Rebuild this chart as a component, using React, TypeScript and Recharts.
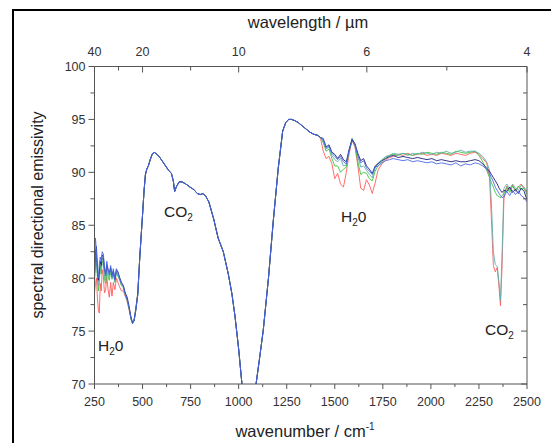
import { LineChart, Line, XAxis, YAxis, Customized } from 'recharts';

// wavenumber grids (cm-1)
const leftWn = [250, 255, 260, 265, 270, 275, 280, 285, 290, 296, 302, 308, 314, 320, 327, 334, 341, 348, 356, 364, 372, 380, 390, 400, 410, 420, 430, 440, 448, 456, 465, 475];
const midWn = [485, 492, 500, 508, 515, 522, 530, 540, 550, 560, 575, 590, 605, 620, 635, 650, 660, 667, 675, 690, 705, 725, 747, 765, 785, 800, 815, 830, 845, 870, 893, 920, 946, 965, 981, 1000, 1016, 1035, 1050, 1070, 1089, 1110, 1128, 1155, 1180, 1206, 1229, 1245, 1260, 1275, 1290, 1310, 1330, 1350, 1370, 1390, 1410, 1425];
const rightWn = [1440, 1455, 1470, 1485, 1500, 1515, 1530, 1545, 1560, 1575, 1590, 1605, 1620, 1635, 1650, 1665, 1680, 1695, 1710, 1725, 1745, 1765, 1785, 1805, 1830, 1855, 1880, 1905, 1930, 1955, 1980, 2005, 2030, 2055, 2080, 2105, 2130, 2155, 2180, 2205, 2230, 2250, 2270, 2290, 2305, 2315, 2325, 2335, 2345, 2355, 2362, 2370, 2380, 2395, 2410, 2425, 2440, 2455, 2470, 2485, 2500];

// part where all the spectra coincide
const sharedMid = [81.8, 83.8, 86.0, 88.3, 89.8, 90.3, 90.6, 91.2, 91.7, 91.9, 91.7, 91.4, 91.0, 90.6, 90.2, 89.9, 89.2, 88.2, 88.6, 89.1, 89.1, 88.9, 88.6, 88.4, 88.0, 87.9, 88.0, 87.7, 87.2, 85.6, 83.8, 82.5, 80.4, 78.5, 76.4, 73.3, 70.2, 66.8, 65.0, 66.5, 69.8, 72.6, 75.1, 80.0, 85.4, 90.4, 93.9, 94.7, 95.0, 95.0, 94.9, 94.7, 94.4, 94.1, 93.8, 93.6, 93.5, 93.3];

const redLeft = [78.6, 79.5, 80.0, 78.2, 77.0, 76.7, 79.5, 78.8, 80.8, 80.2, 78.6, 78.9, 80.2, 79.0, 78.2, 79.6, 78.3, 79.6, 78.9, 80.0, 79.6, 79.2, 78.8, 78.8, 78.3, 77.8, 77.0, 76.1, 75.7, 76.1, 77.2, 78.6];
const redRight = [92.0, 91.3, 91.5, 90.8, 89.4, 89.9, 88.9, 88.6, 90.0, 91.8, 93.0, 92.4, 90.6, 88.5, 88.3, 89.3, 88.8, 88.0, 89.0, 90.2, 90.8, 91.2, 91.4, 91.5, 91.7, 91.6, 91.8, 91.6, 91.7, 91.8, 91.6, 91.7, 91.6, 91.8, 91.7, 91.6, 91.8, 91.7, 91.6, 91.8, 91.9, 91.7, 91.3, 90.9, 89.6, 85.5, 81.2, 80.6, 81.0, 79.0, 77.4, 81.0, 87.5, 88.7, 88.3, 88.8, 88.2, 88.6, 88.9, 88.4, 88.1];

const greenLeft = [79.8, 81.0, 82.0, 80.0, 78.8, 79.6, 81.2, 80.4, 81.6, 81.4, 79.9, 79.5, 80.6, 80.2, 79.8, 80.6, 79.9, 80.4, 79.6, 80.5, 80.2, 79.9, 79.3, 79.1, 78.4, 77.9, 77.1, 76.1, 75.7, 76.0, 77.1, 78.5];
const greenRight = [92.8, 92.0, 92.2, 91.3, 90.6, 90.6, 90.0, 90.3, 90.5, 92.0, 93.2, 92.6, 91.0, 89.8, 90.0, 89.9, 89.4, 89.2, 90.1, 90.6, 91.0, 91.4, 91.6, 91.7, 91.6, 91.8, 91.7, 91.6, 91.8, 91.7, 91.9, 91.8, 91.7, 91.9, 91.8, 91.7, 92.0, 91.9, 91.8, 91.9, 92.0, 91.6, 91.0, 90.2, 89.5, 89.0, 88.6, 88.1, 87.8, 87.7, 87.6, 87.8, 88.0, 88.6, 88.1, 88.7, 88.3, 88.7, 88.4, 88.5, 87.9];

const tealLeft = [80.2, 81.8, 82.2, 80.6, 79.3, 80.0, 81.0, 80.8, 81.9, 81.6, 80.3, 79.8, 80.9, 80.5, 80.1, 80.8, 80.0, 80.5, 79.7, 80.6, 80.3, 79.9, 79.4, 79.2, 78.5, 78.0, 77.2, 76.2, 75.8, 76.0, 77.0, 78.4];
const tealRight = [92.9, 92.2, 92.4, 91.6, 91.2, 91.0, 91.3, 90.6, 90.7, 92.0, 93.2, 92.6, 91.5, 90.5, 90.6, 90.2, 89.8, 89.5, 90.4, 90.9, 91.2, 91.5, 91.6, 91.8, 91.7, 91.8, 91.6, 91.8, 91.7, 91.9, 91.8, 91.7, 91.9, 91.8, 92.0, 91.8, 91.9, 92.1, 91.9, 92.0, 92.0, 91.8, 91.5, 91.0, 90.2, 87.0, 82.5, 81.3, 81.1, 79.5, 77.9, 82.0, 88.5, 88.9, 88.4, 88.9, 88.5, 88.3, 88.8, 88.6, 88.2];

const navyLeft = [80.5, 82.5, 83.0, 81.0, 79.8, 80.6, 81.6, 81.2, 82.2, 82.0, 80.9, 80.4, 81.3, 80.8, 80.5, 81.0, 80.3, 80.7, 79.9, 80.8, 80.6, 80.1, 79.6, 79.3, 78.6, 78.2, 77.3, 76.3, 75.8, 76.0, 77.0, 78.5];
const navyRight = [93.2, 92.4, 92.6, 91.9, 91.7, 91.3, 91.7, 91.2, 91.0, 92.2, 93.1, 92.7, 91.8, 91.1, 91.3, 90.6, 90.3, 89.9, 90.6, 90.8, 91.1, 91.3, 91.5, 91.6, 91.4, 91.5, 91.4, 91.3, 91.4, 91.3, 91.2, 91.3, 91.1, 91.2, 91.1, 91.0, 91.1, 91.0, 91.0, 91.1, 91.2, 91.1, 90.8, 90.4, 90.1, 89.8, 89.5, 89.2, 88.9, 88.5, 88.3, 88.1, 88.3, 88.2, 88.6, 88.1, 88.4, 88.0, 88.5, 88.2, 87.4];

const blueLeft = [81.5, 83.8, 82.6, 80.5, 80.0, 81.3, 82.0, 81.5, 82.5, 82.3, 81.0, 80.2, 81.6, 80.9, 80.3, 81.2, 80.1, 80.9, 79.8, 80.9, 80.5, 80.0, 79.5, 79.2, 78.5, 78.0, 77.2, 76.2, 75.7, 76.0, 77.0, 78.4];
const blueRight = [93.1, 92.3, 92.5, 91.8, 91.5, 91.2, 91.5, 91.0, 90.8, 92.1, 93.0, 92.6, 91.6, 90.9, 91.1, 90.4, 90.1, 89.8, 90.5, 90.6, 90.9, 91.1, 91.2, 91.3, 91.2, 91.1, 91.2, 91.0, 91.1, 91.0, 90.9, 91.0, 90.8, 90.9, 90.8, 90.7, 90.9, 90.6, 90.8, 90.7, 90.9, 90.8, 90.6, 90.3, 89.9, 89.5, 89.1, 88.6, 88.3, 88.0, 87.8, 87.6, 87.7, 88.2, 87.8, 88.3, 87.9, 88.2, 87.8, 87.6, 87.2];

// axis ticks
const xMajor = [250, 500, 750, 1000, 1250, 1500, 1750, 2000, 2250, 2500];
const xMinor = [375, 625, 875, 1125, 1375, 1625, 1875, 2125, 2375];
const yMajor = [70, 75, 80, 85, 90, 95, 100];
const yMinor = [72.5, 77.5, 82.5, 87.5, 92.5, 97.5];
const topMajor = [250, 500, 1000, 1666.7, 2500];
const topLabels = ['40', '20', '10', '6', '4'];
const topMinor = [375, 750, 1333, 2083];

const series = [
  { key: 'red', color: '#ff5c5c', left: redLeft, right: redRight },
  { key: 'green', color: '#3cc43c', left: greenLeft, right: greenRight },
  { key: 'teal', color: '#5fb0b0', left: tealLeft, right: tealRight },
  { key: 'navy', color: '#1c1c7a', left: navyLeft, right: navyRight },
  { key: 'blue', color: '#4d68e6', left: blueLeft, right: blueRight },
];

const wavenumber = [...leftWn, ...midWn, ...rightWn];
const full = series.map((s) => [...s.left, ...sharedMid, ...s.right]);
const data = wavenumber.map((wn, i) => {
  const row: Record<string, number> = { wn };
  series.forEach((s, j) => {
    row[s.key] = full[j][i];
  });
  return row;
});

const FONT = '"Liberation Sans", Arial, sans-serif';
const AXIS = '#555';
const LABEL = '#333';

const BottomTick = ({ x, y, payload }: any) => {
  const major = xMajor.includes(payload.value);
  return (
    <g>
      <line x1={x} x2={x} y1={y} y2={y + (major ? 5 : 3)} stroke={AXIS} />
      {major && (
        <text x={x} y={y + 22} textAnchor="middle" fontSize={12.5} fill={LABEL} fontFamily={FONT}>
          {payload.value}
        </text>
      )}
    </g>
  );
};

const TopTick = ({ x, y, payload }: any) => {
  const idx = topMajor.indexOf(payload.value);
  return (
    <g>
      <line x1={x} x2={x} y1={y} y2={y + (idx >= 0 ? 6 : 4)} stroke={AXIS} />
      {idx >= 0 && (
        <text x={x} y={y - 11} textAnchor="middle" fontSize={12.5} fill={LABEL} fontFamily={FONT}>
          {topLabels[idx]}
        </text>
      )}
    </g>
  );
};

const LeftTick = ({ x, y, payload }: any) => {
  const major = yMajor.includes(payload.value);
  return (
    <g>
      <line x1={x} x2={x - (major ? 6 : 4)} y1={y} y2={y} stroke={AXIS} />
      {major && (
        <text x={x - 9} y={y + 4.5} textAnchor="end" fontSize={12.5} fill={LABEL} fontFamily={FONT}>
          {payload.value}
        </text>
      )}
    </g>
  );
};

const RightTick = ({ x, y, payload }: any) => {
  const major = yMajor.includes(payload.value);
  return <line x1={x} x2={x - (major ? 6 : 4)} y1={y} y2={y} stroke={AXIS} />;
};

const Annotations = () => (
  <g fontFamily={FONT} fill="#222">
    <text x={308} y={28} textAnchor="middle" fontSize={16.5}>wavelength / µm</text>
    <text x={305} y={437} textAnchor="middle" fontSize={16.5}>
      wavenumber / cm<tspan dy={-7} fontSize={10}>-1</tspan>
    </text>
    <text x={43} y={215} textAnchor="middle" fontSize={16} transform="rotate(-90 43 215)">
      spectral directional emissivity
    </text>
    <text x={164} y={217} fontSize={15.5}>
      CO<tspan dy={4} fontSize={10}>2</tspan>
    </text>
    <text x={341} y={222} fontSize={15.5}>
      H<tspan dy={4} fontSize={10}>2</tspan><tspan dy={-4}>0</tspan>
    </text>
    <text x={98} y={351} fontSize={15.5}>
      H<tspan dy={4} fontSize={10}>2</tspan><tspan dy={-4}>0</tspan>
    </text>
    <text x={485} y={335} fontSize={15.5}>
      CO<tspan dy={4} fontSize={10}>2</tspan>
    </text>
  </g>
);

export default function App() {
  return (
    <div style={{ position: 'fixed', left: 0, top: 0, width: 551, height: 443, background: '#fff', overflow: 'hidden' }}>
      <div
        style={{
          position: 'absolute',
          left: 12,
          top: 9,
          width: 560,
          height: 460,
          borderLeft: '2px solid #000',
          borderTop: '2px solid #000',
        }}
      />
      <div style={{ position: 'absolute', left: 0, top: 0 }}>
        <LineChart width={551} height={443} data={data} margin={{ top: 46.5, right: 14, bottom: 39, left: 64.5 }}>
          <XAxis
            xAxisId="bottom"
            dataKey="wn"
            type="number"
            domain={[250, 2500]}
            ticks={[...xMajor, ...xMinor]}
            interval={0}
            height={20}
            tickSize={0}
            tickMargin={0}
            tick={BottomTick}
            axisLine={{ stroke: AXIS }}
            allowDataOverflow
          />
          <XAxis
            xAxisId="top"
            orientation="top"
            dataKey="wn"
            type="number"
            domain={[250, 2500]}
            ticks={[...topMajor, ...topMinor]}
            interval={0}
            height={20}
            tickSize={0}
            tickMargin={0}
            tick={TopTick}
            axisLine={{ stroke: AXIS }}
            allowDataOverflow
          />
          <YAxis
            yAxisId="left"
            type="number"
            domain={[70, 100]}
            ticks={[...yMajor, ...yMinor]}
            interval={0}
            width={30}
            tickSize={0}
            tickMargin={0}
            tick={LeftTick}
            axisLine={{ stroke: AXIS }}
            allowDataOverflow
          />
          <YAxis
            yAxisId="right"
            orientation="right"
            type="number"
            domain={[70, 100]}
            ticks={[...yMajor, ...yMinor]}
            interval={0}
            width={10}
            tickSize={0}
            tickMargin={0}
            tick={RightTick}
            axisLine={{ stroke: AXIS }}
            allowDataOverflow
          />
          {series.map((s) => (
            <Line
              key={s.key}
              xAxisId="bottom"
              yAxisId="left"
              dataKey={s.key}
              stroke={s.color}
              strokeWidth={0.9}
              dot={false}
              isAnimationActive={false}
              type="linear"
            />
          ))}
          <Customized component={Annotations} />
        </LineChart>
      </div>
    </div>
  );
}
